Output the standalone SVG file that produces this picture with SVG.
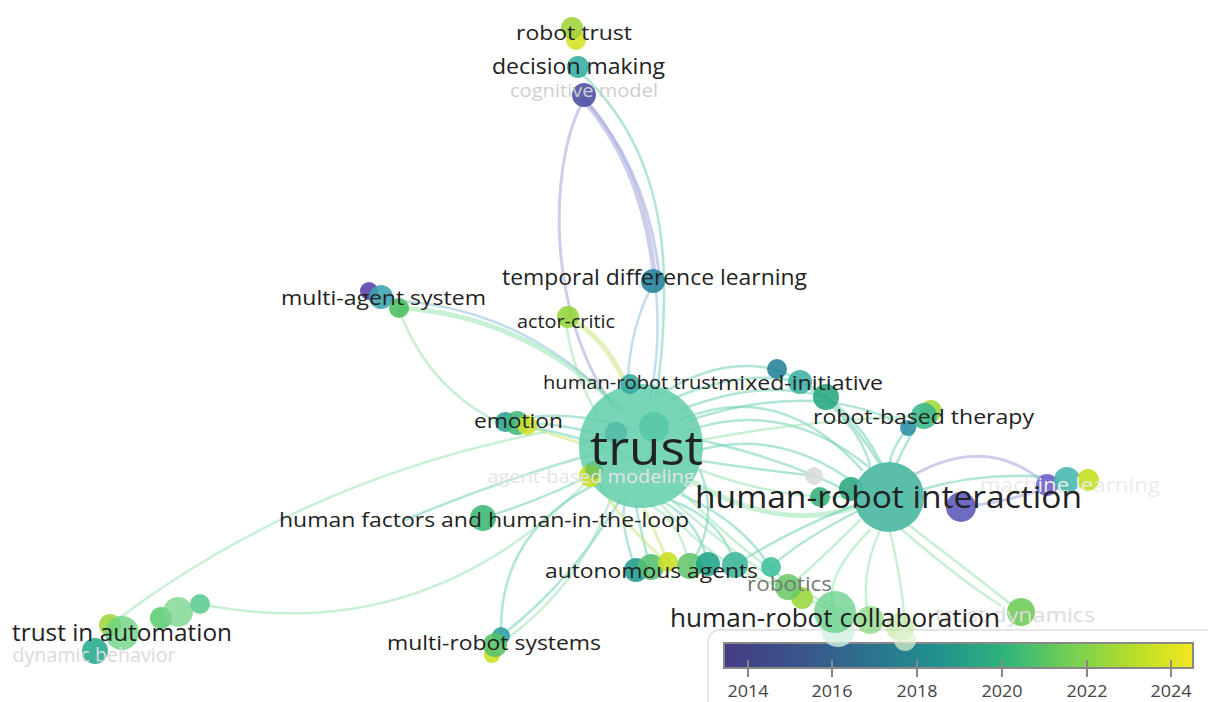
<svg xmlns="http://www.w3.org/2000/svg" width="1208" height="702" viewBox="0 0 1208 702">
<defs>
<linearGradient id="vir" x1="0" y1="0" x2="1" y2="0">
<stop offset="0" stop-color="#453c85"/>
<stop offset="0.15" stop-color="#3b528b"/>
<stop offset="0.3" stop-color="#2d708e"/>
<stop offset="0.45" stop-color="#21908d"/>
<stop offset="0.6" stop-color="#2fb47c"/>
<stop offset="0.75" stop-color="#7ad151"/>
<stop offset="0.88" stop-color="#bade28"/>
<stop offset="1" stop-color="#f4e61e"/>
</linearGradient>
<style>
.e{fill:none;stroke-linecap:round;opacity:0.55}
.t{stroke:#6fd0b8;stroke-width:2.5}
.g{stroke:#9be3b0;stroke-width:2.5}
.b{stroke:#8cc4d8;stroke-width:2.5}
.p{stroke:#a3a6da;stroke-width:3}
.y{stroke:#c9e67c;stroke-width:3}
circle{opacity:0.88}
text{font-family:"Open Sans","Noto Sans","Liberation Sans",sans-serif;text-anchor:middle;dominant-baseline:central;fill:#222}
.f{fill:#cfcfcf}
.lg{font-size:17px;fill:#444}
</style>
</defs>
<rect width="1208" height="702" fill="#fff"/>
<g id="connectors">
<path class="e p" d="M584,100 C553,150 540,300 612,405"/>
<path class="e p" style="stroke-width:5" d="M584,100 Q645,170 655,282"/>
<path class="e p" d="M586,100 Q650,175 660,282"/>
<path class="e b" d="M655,282 Q662,340 650,400"/>
<path class="e t" d="M580,72 Q665,150 664,290 Q664,350 656,395"/>
<path class="e b" d="M650,290 Q630,330 628,380"/>
<path class="e g" style="stroke-width:5" d="M399,308 Q525,315 622,410"/>
<path class="e b" d="M385,300 Q520,305 612,402"/>
<path class="e g" d="M399,310 Q430,392 505,425"/>
<path class="e y" style="stroke-width:5" d="M568,317 Q610,340 630,395"/>
<path class="e g" d="M566,322 Q572,372 600,420"/>
<path class="e t" d="M505,425 Q560,418 630,445"/>
<path class="e y" d="M527,426 Q570,440 640,462"/>
<path class="e t" d="M515,420 Q570,408 635,430"/>
<path class="e t" d="M510,424 Q560,430 620,452"/>
<path class="e g" d="M110,625 Q300,480 545,432"/>
<path class="e g" d="M200,604 Q430,650 598,470"/>
<path class="e t" d="M483,518 Q548,498 600,470"/>
<path class="e t" d="M405,520 Q500,480 590,455"/>
<path class="e t" d="M501,636 Q498,530 600,482"/>
<path class="e t" d="M506,632 Q572,580 620,500"/>
<path class="e g" d="M508,638 Q580,585 610,500"/>
<path class="e t" d="M636,570 Q618,520 626,500"/>
<path class="e t" d="M650,567 Q638,520 636,505"/>
<path class="e y" d="M668,562 Q650,520 642,505"/>
<path class="e y" d="M664,560 Q620,520 600,485"/>
<path class="e g" d="M690,567 Q680,520 650,505"/>
<path class="e t" d="M708,565 Q700,520 660,500"/>
<path class="e t" d="M735,565 Q722,518 670,500"/>
<path class="e t" d="M770,567 Q740,520 682,495"/>
<path class="e t" d="M690,566 Q720,520 700,470"/>
<path class="e t" d="M680,420 Q780,378 862,470"/>
<path class="e t" d="M690,430 Q785,398 870,468"/>
<path class="e t" d="M700,450 Q780,428 856,484"/>
<path class="e t" d="M700,440 Q790,460 855,495"/>
<path class="e g" style="stroke-width:5" d="M690,480 Q780,535 862,505"/>
<path class="e g" d="M700,470 Q780,500 855,497"/>
<path class="e t" d="M695,460 Q760,470 815,476"/>
<path class="e t" d="M660,395 Q720,355 777,370"/>
<path class="e t" d="M670,400 Q742,368 800,382"/>
<path class="e t" d="M680,410 Q762,378 826,397"/>
<path class="e t" d="M690,420 Q820,378 908,428"/>
<path class="e g" d="M700,440 Q820,418 924,416"/>
<path class="e t" d="M826,397 Q860,430 880,465"/>
<path class="e t" d="M800,382 Q858,420 870,465"/>
<path class="e t" d="M777,370 Q850,398 882,465"/>
<path class="e t" d="M908,428 Q890,450 890,465"/>
<path class="e t" d="M920,420 Q902,450 896,465"/>
<path class="e p" d="M905,480 Q985,430 1047,485"/>
<path class="e p" d="M961,507 Q1010,502 1047,487"/>
<path class="e t" d="M920,490 Q995,468 1068,480"/>
<path class="e g" d="M905,522 Q980,580 1021,612"/>
<path class="e g" d="M880,530 Q858,580 870,620"/>
<path class="e g" d="M890,532 Q902,580 905,625"/>
<path class="e g" d="M870,530 Q820,580 835,612"/>
<path class="e g" d="M900,528 Q960,580 1000,605"/>
<path class="e g" d="M860,520 Q820,560 790,586"/>
<path class="e g" d="M662,505 Q720,572 788,588"/>
<path class="e g" d="M672,500 Q765,582 835,612"/>
<path class="e g" d="M682,492 Q790,600 870,620"/>
<path class="e t" d="M860,510 Q800,540 771,567"/>
<path class="e t" d="M855,505 Q790,530 735,565"/>
</g>
<g id="legend">
<rect x="708" y="630" width="520" height="95" rx="12" fill="#fff" stroke="#dedede" stroke-width="1.5"/>
<rect x="724" y="643" width="469" height="25" fill="url(#vir)" stroke="#888" stroke-width="2"/>
<g stroke="#888" stroke-width="2">
<line x1="748" y1="660" x2="748" y2="677"/>
<line x1="832" y1="660" x2="832" y2="677"/>
<line x1="917" y1="660" x2="917" y2="677"/>
<line x1="1002" y1="660" x2="1002" y2="677"/>
<line x1="1087" y1="660" x2="1087" y2="677"/>
<line x1="1171" y1="660" x2="1171" y2="677"/>
</g>
<text class="lg" x="748" y="690" textLength="41" lengthAdjust="spacingAndGlyphs">2014</text>
<text class="lg" x="832" y="690" textLength="41" lengthAdjust="spacingAndGlyphs">2016</text>
<text class="lg" x="917" y="690" textLength="41" lengthAdjust="spacingAndGlyphs">2018</text>
<text class="lg" x="1002" y="690" textLength="41" lengthAdjust="spacingAndGlyphs">2020</text>
<text class="lg" x="1087" y="690" textLength="41" lengthAdjust="spacingAndGlyphs">2022</text>
<text class="lg" x="1171" y="690" textLength="41" lengthAdjust="spacingAndGlyphs">2024</text>
</g>
<g id="node-robot-trust"><circle cx="576" cy="40" r="10" fill="#d4e11e"/><circle cx="572" cy="28" r="11" fill="#9fd43a"/></g>
<g id="node-decision-making"><circle cx="578" cy="67" r="11" fill="#33aea2"/></g>
<g id="node-cognitive-model"><circle cx="584" cy="95" r="12" fill="#4b4ca0"/></g>
<g id="node-temporal-difference-learning"><circle cx="653" cy="281" r="12" fill="#22829a"/></g>
<g id="node-multi-agent-system"><circle cx="369" cy="291" r="9" fill="#5a3fa8"/><circle cx="381" cy="297" r="12" fill="#3ba4ae"/><circle cx="399" cy="308" r="10" fill="#49be5d"/></g>
<g id="node-actor-critic"><circle cx="568" cy="317" r="11" fill="#94d43a"/></g>
<g id="node-trust"><circle cx="641" cy="446" r="62" fill="#5ccca8" style="opacity:0.82"/><circle cx="616" cy="433" r="11" fill="#3aa99d" style="opacity:0.5"/><circle cx="654" cy="427" r="15" fill="#3fbf98" style="opacity:0.5"/></g>
<g id="node-human-robot-trust"><circle cx="630" cy="384" r="10" fill="#34a9a0"/></g>
<g id="node-emotion"><circle cx="505" cy="422" r="10" fill="#2a9f9a"/><circle cx="517" cy="423" r="12" fill="#41b77d"/><circle cx="527" cy="425" r="10" fill="#cfe12c"/></g>
<g id="node-agent-based-modeling"><circle cx="590" cy="476" r="11" fill="#c7df20"/><circle cx="594" cy="470" r="9" fill="#4fb86a" style="opacity:0.6"/></g>
<g id="node-mixed-initiative"><circle cx="777" cy="369" r="10" fill="#23819a"/><circle cx="800" cy="382" r="12" fill="#3fb0a5"/><circle cx="826" cy="397" r="13" fill="#27a680"/></g>
<g id="node-robot-based-therapy"><circle cx="908" cy="428" r="8" fill="#2c8fa6"/><circle cx="931" cy="411" r="11" fill="#9fd73a"/><circle cx="924" cy="416" r="13" fill="#39b88c"/></g>
<g id="node-human-robot-interaction"><circle cx="814" cy="476" r="9" fill="#dcdcdc"/><circle cx="820" cy="497" r="10" fill="#38b27a"/><circle cx="851" cy="489" r="12" fill="#2ea77f"/><circle cx="889" cy="497" r="35" fill="#4cb9a4" style="opacity:0.92"/><circle cx="961" cy="507" r="15" fill="#5a57b8"/></g>
<g id="node-machine-learning"><circle cx="1047" cy="485" r="11" fill="#6a5fc8"/><circle cx="1067" cy="480" r="13" fill="#47b6b0"/><circle cx="1088" cy="480" r="11" fill="#c4de1b"/></g>
<g id="node-human-factors"><circle cx="483" cy="518" r="13" fill="#3cb873"/></g>
<g id="node-autonomous-agents"><circle cx="636" cy="570" r="12" fill="#1f9b8e"/><circle cx="651" cy="567" r="13" fill="#55c06e"/><circle cx="668" cy="562" r="10" fill="#c7df20"/><circle cx="690" cy="566" r="13" fill="#64c56d"/><circle cx="708" cy="564" r="12" fill="#1fa488"/><circle cx="735" cy="565" r="13" fill="#3ab59a"/><circle cx="771" cy="567" r="10" fill="#3cbf9c"/></g>
<g id="node-robotics"><circle cx="802" cy="598" r="11" fill="#9ad63c"/><circle cx="788" cy="587" r="13" fill="#6ac967"/></g>
<g id="node-human-robot-collaboration"><circle cx="838" cy="630" r="17" fill="#d2efe2" style="opacity:0.8"/><circle cx="835" cy="612" r="21" fill="#66cf88" style="opacity:0.75"/><circle cx="870" cy="620" r="14" fill="#8bd880" style="opacity:0.75"/><circle cx="900" cy="627" r="14" fill="#b8e599" style="opacity:0.6"/><circle cx="905" cy="640" r="11" fill="#dff3d0" style="opacity:0.7"/></g>
<g id="node-trust-dynamics"><circle cx="1021" cy="612" r="14" fill="#6dcb55"/></g>
<g id="node-multi-robot-systems"><circle cx="501" cy="636" r="9" fill="#2a9fa3"/><circle cx="492" cy="655" r="8" fill="#c9df1f"/><circle cx="495" cy="645" r="12" fill="#58c168"/></g>
<g id="node-trust-in-automation"><circle cx="110" cy="625" r="11" fill="#9fd53a"/><circle cx="122" cy="633" r="17" fill="#6dd383" style="opacity:0.8"/><circle cx="95" cy="651" r="13" fill="#25a98e"/><circle cx="161" cy="618" r="11" fill="#5ccc74"/><circle cx="178" cy="612" r="15" fill="#7bd790" style="opacity:0.8"/><circle cx="200" cy="604" r="10" fill="#5ccb8e"/></g>
<g id="labels">
<text class="f" x="584" y="90" font-size="19" textLength="148" lengthAdjust="spacingAndGlyphs">cognitive model</text>
<text class="f" x="591" y="476" font-size="19" style="fill:#e4e4e4" textLength="207" lengthAdjust="spacingAndGlyphs">agent-based modeling</text>
<text class="f" x="1070" y="484" font-size="20" style="fill:#ebebeb" textLength="180" lengthAdjust="spacingAndGlyphs">machine learning</text>
<text class="f" x="1015" y="614" font-size="20" style="fill:#dcdcdc" textLength="160" lengthAdjust="spacingAndGlyphs">trust dynamics</text>
<text class="f" x="94" y="654" font-size="20" style="fill:#dadada" textLength="163" lengthAdjust="spacingAndGlyphs">dynamic behavior</text>
<text x="574" y="32" font-size="20" textLength="116" lengthAdjust="spacingAndGlyphs">robot trust</text>
<text x="578.5" y="66" font-size="21" textLength="173" lengthAdjust="spacingAndGlyphs">decision making</text>
<text x="654.5" y="277" font-size="21" textLength="305" lengthAdjust="spacingAndGlyphs">temporal difference learning</text>
<text x="383.5" y="297" font-size="20.5" textLength="205" lengthAdjust="spacingAndGlyphs">multi-agent system</text>
<text x="566" y="321" font-size="17.5" textLength="98" lengthAdjust="spacingAndGlyphs">actor-critic</text>
<text x="630.5" y="381" font-size="18.5" textLength="175" lengthAdjust="spacingAndGlyphs">human-robot trust</text>
<text x="800.5" y="382" font-size="19.5" textLength="165" lengthAdjust="spacingAndGlyphs">mixed-initiative</text>
<text x="923.5" y="416" font-size="20" textLength="221" lengthAdjust="spacingAndGlyphs">robot-based therapy</text>
<text x="518.5" y="420" font-size="20" textLength="89" lengthAdjust="spacingAndGlyphs">emotion</text>
<text x="646.5" y="447" font-size="47" textLength="113" lengthAdjust="spacingAndGlyphs">trust</text>
<text x="888.5" y="496" font-size="31" textLength="387" lengthAdjust="spacingAndGlyphs">human-robot interaction</text>
<text x="484" y="519" font-size="20.5" textLength="410" lengthAdjust="spacingAndGlyphs">human factors and human-in-the-loop</text>
<text x="651.5" y="570" font-size="20.5" textLength="213" lengthAdjust="spacingAndGlyphs">autonomous agents</text>
<text x="789.5" y="583" font-size="20" style="fill:#777" textLength="85" lengthAdjust="spacingAndGlyphs">robotics</text>
<text x="835" y="617" font-size="25" textLength="330" lengthAdjust="spacingAndGlyphs">human-robot collaboration</text>
<text x="494" y="642" font-size="20.5" textLength="214" lengthAdjust="spacingAndGlyphs">multi-robot systems</text>
<text x="122" y="632" font-size="23" textLength="220" lengthAdjust="spacingAndGlyphs">trust in automation</text>
</g>
</svg>
